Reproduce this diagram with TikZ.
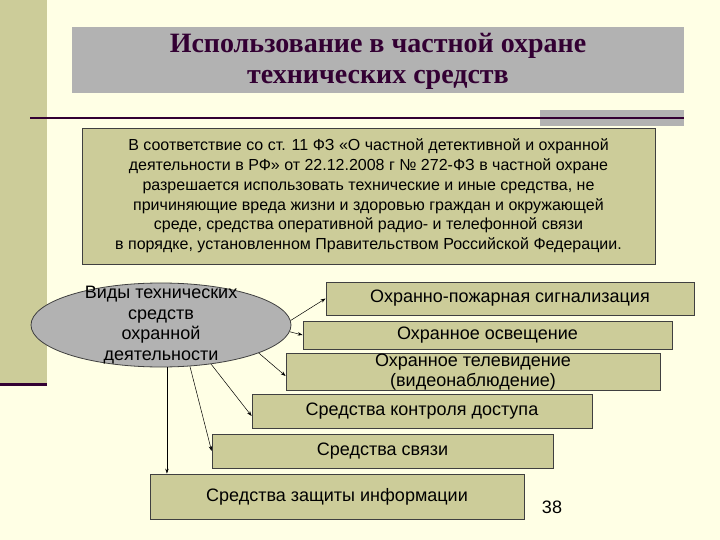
\documentclass[tikz,border=0pt]{standalone}
\usepackage{fontspec}
\setmainfont{Liberation Sans}
\newfontfamily\titlefont{Liberation Serif}
\usetikzlibrary{shapes.geometric,arrows.meta}
\definecolor{cream}{RGB}{255,255,229}
\definecolor{khaki}{RGB}{204,204,153}
\definecolor{slidegray}{RGB}{178,178,178}
\definecolor{plum}{RGB}{51,0,51}
\tikzset{
  kind/.style={draw=black!75, line width=0.8pt, fill=khaki, inner sep=0pt,
    minimum width=#1, align=center, font=\fontsize{18}{20}\selectfont},
  link/.style={-{Stealth[length=5pt,width=3.5pt]}, line width=0.5pt}
}
\begin{document}
\begin{tikzpicture}[x=1pt,y=-1pt]
    \useasboundingbox (0,0) rectangle (720,540);
    \fill[cream] (0,0) rectangle (720,540);
    % left stripe and rule
    \fill[khaki] (0,0) rectangle (47,383);
    \fill[plum] (0,383) rectangle (47,386);
    \fill[slidegray] (540,110) rectangle (684,126);
    \draw[plum, line width=1.5pt] (30,118) -- (684,118);
    % title
    \fill[slidegray] (72,27) rectangle (684,93);
    \node[text=plum, align=center, font=\titlefont\bfseries\fontsize{28}{31}\selectfont]
        (title) at (378,61) {Использование в частной охране\\технических средств};
    % law text
    \node[kind=573pt, minimum height=136pt, font=\fontsize{16}{19.8}\selectfont]
        (law) at (368.5,196) {В соответствие со ст. 11 ФЗ «О частной детективной и охранной\\
        деятельности в РФ» от 22.12.2008 г № 272-ФЗ в частной охране\\
        разрешается использовать технические и иные средства, не\\
        причиняющие вреда жизни и здоровью граждан и окружающей\\
        среде, средства оперативной радио- и телефонной связи\\
        в порядке, установленном Правительством Российской Федерации.};
    % kinds
    \node[ellipse, draw=black!75, line width=0.8pt, fill=slidegray,
        minimum width=260pt, minimum height=84pt] (vidy) at (161,325) {};
    \node[align=center, font=\fontsize{18}{20.5}\selectfont] (vidytext) at (vidy.center)
        {Виды технических\\средств\\охранной\\деятельности};
    \node[kind=368pt, minimum height=33pt] (sig) at (510,298.5) {Охранно-пожарная сигнализация};
    \node[kind=369pt, minimum height=28pt] (osv) at (487.5,335) {Охранное освещение};
    \node[kind=374pt, minimum height=34pt]
        (tv) at (473,372) {Охранное телевидение\\(видеонаблюдение)};
    \node[kind=340pt, minimum height=34pt] (kd) at (422,411) {Средства контроля доступа};
    \node[kind=341pt, minimum height=34pt] (sv) at (382.5,451) {Средства связи};
    \node[kind=374pt, minimum height=45pt] (zi) at (337,496.5) {Средства защиты информации};
    \node[font=\fontsize{18}{20}\selectfont] (num) at (552,507) {38};
    % arrows
    \draw[link] (vidy.2) -- (sig.west);
    \draw[link] (vidy.-3) -- (osv.west);
    \draw[link] (vidy.-16) -- ([yshift=-4pt]tv.west);
    \draw[link] (vidy.-38) -- ([yshift=-5pt]kd.west);
    \draw[link] (vidy.-55) -- (sv.west);
    \draw[link] (vidy.-82) -- (vidy.-82 |- zi.north);
\end{tikzpicture}
\end{document}
